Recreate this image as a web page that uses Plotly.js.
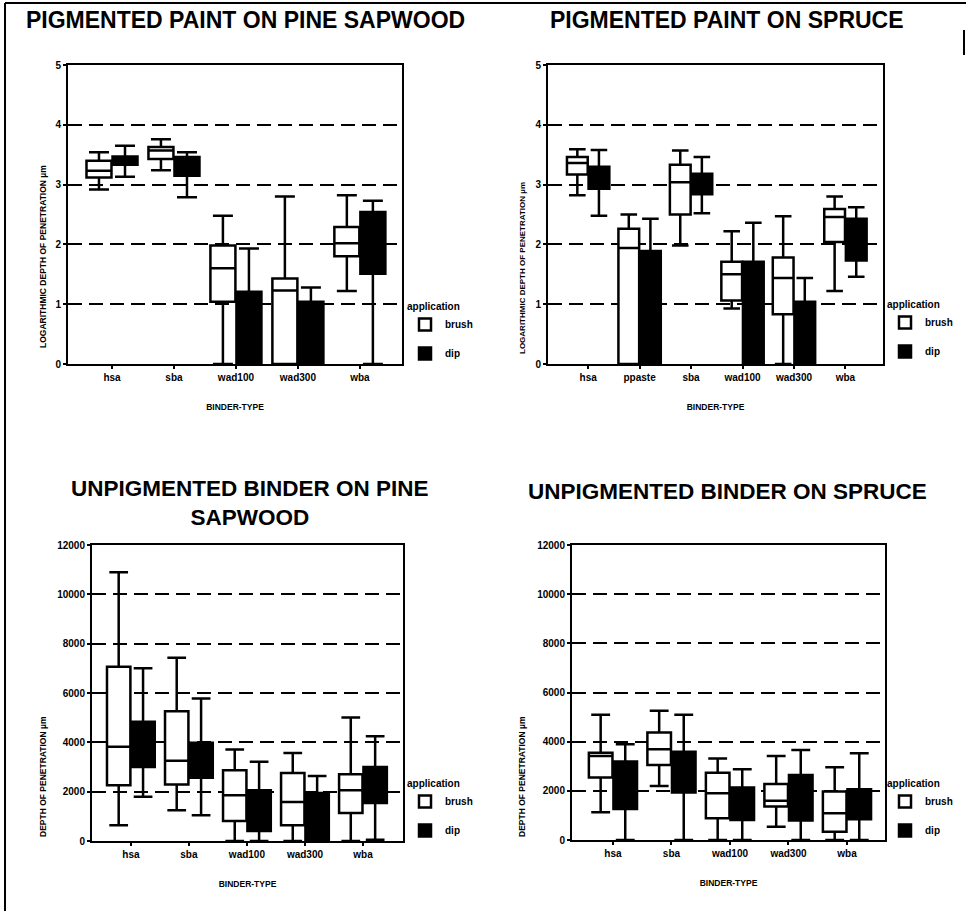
<!DOCTYPE html>
<html><head><meta charset="utf-8">
<script src="https://cdn.plot.ly/plotly-3.0.1.min.js"></script>
<style>html,body{margin:0;padding:0;background:#fff}#chart{width:966px;height:911px}</style>
</head><body><div id="chart"></div>
<script>
// ---------- categories ----------
const binders5 = ['hsa', 'sba', 'wad100', 'wad300', 'wba'];
const binders6 = ['hsa', 'ppaste', 'sba', 'wad100', 'wad300', 'wba'];
const seriesNames = ['brush', 'dip'];

// ---------- panel 1: pigmented paint on pine sapwood (log depth) ----------
const p1BrushLow  = [2.92, 3.24, 0.00, 0.00, 1.22];
const p1BrushQ1   = [3.12, 3.43, 1.04, 0.00, 1.80];
const p1BrushMed  = [3.23, 3.57, 1.60, 1.23, 2.02];
const p1BrushQ3   = [3.40, 3.63, 1.98, 1.43, 2.29];
const p1BrushHigh = [3.54, 3.76, 2.48, 2.80, 2.82];
const p1DipLow    = [3.13, 2.79, 0.00, 0.00, 0.00];
const p1DipQ1     = [3.33, 3.15, 0.00, 0.00, 1.51];
const p1DipMed    = [3.40, 3.30, 0.60, 0.50, 2.00];
const p1DipQ3     = [3.47, 3.46, 1.21, 1.04, 2.54];
const p1DipHigh   = [3.65, 3.54, 1.93, 1.28, 2.73];

// ---------- panel 2: pigmented paint on spruce (log depth) ----------
const p2BrushLow  = [2.82, 0.00, 1.98, 0.93, 0.00, 1.22];
const p2BrushQ1   = [3.17, 0.00, 2.50, 1.06, 0.83, 2.04];
const p2BrushMed  = [3.36, 1.94, 3.04, 1.50, 1.44, 2.46];
const p2BrushQ3   = [3.46, 2.26, 3.33, 1.71, 1.78, 2.59];
const p2BrushHigh = [3.59, 2.50, 3.57, 2.22, 2.47, 2.80];
const p2DipLow    = [2.48, 0.00, 2.52, 0.00, 0.00, 1.46];
const p2DipQ1     = [2.93, 0.00, 2.84, 0.00, 0.00, 1.73];
const p2DipMed    = [3.10, 1.00, 3.00, 1.00, 0.50, 2.10];
const p2DipQ3     = [3.30, 1.89, 3.18, 1.71, 1.04, 2.43];
const p2DipHigh   = [3.58, 2.43, 3.46, 2.36, 1.44, 2.62];

// ---------- panel 3: unpigmented binder on pine sapwood (depth µm) ----------
const p3BrushLow  = [640, 1250, 0, 0, 0];
const p3BrushQ1   = [2260, 2290, 810, 640, 1140];
const p3BrushMed  = [3820, 3250, 1850, 1580, 2060];
const p3BrushQ3   = [7060, 5260, 2870, 2760, 2710];
const p3BrushHigh = [10900, 7430, 3710, 3570, 5010];
const p3DipLow    = [1790, 1040, 0, 0, 50];
const p3DipQ1     = [3000, 2560, 410, 0, 1540];
const p3DipMed    = [4000, 3300, 1200, 1000, 2300];
const p3DipQ3     = [4830, 3980, 2060, 1950, 3000];
const p3DipHigh   = [7000, 5780, 3210, 2640, 4250];

// ---------- panel 4: unpigmented binder on spruce (depth µm) ----------
const p4BrushLow  = [1130, 2200, 0, 540, 0];
const p4BrushQ1   = [2540, 3050, 880, 1360, 340];
const p4BrushMed  = [3420, 3690, 1900, 1600, 1090];
const p4BrushQ3   = [3550, 4370, 2740, 2280, 1970];
const p4BrushHigh = [5090, 5260, 3320, 3420, 2960];
const p4DipLow    = [0, 0, 0, 0, 0];
const p4DipQ1     = [1260, 1930, 810, 790, 840];
const p4DipMed    = [2200, 2800, 1500, 1700, 1400];
const p4DipQ3     = [3190, 3590, 2140, 2640, 2060];
const p4DipHigh   = [3890, 5090, 2880, 3660, 3530];

// ---------- text ----------
const panelTitles = [
  'PIGMENTED PAINT ON PINE SAPWOOD',
  'PIGMENTED PAINT ON SPRUCE',
  'UNPIGMENTED BINDER ON PINE<br>SAPWOOD',
  'UNPIGMENTED BINDER ON SPRUCE'
];
const yTitles = [
  'LOGARITHMIC DEPTH OF PENETRATION µm',
  'LOGARITHMIC DEPTH OF PENETRATION µm',
  'DEPTH OF PENETRATION µm',
  'DEPTH OF PENETRATION µm'
];
const xTitle = 'BINDER-TYPE';
const legendTitle = 'application';

// ---------- layout helpers (pixel -> paper) ----------
const W = 966, H = 911;
const px = v => v / W;
const py = v => 1 - v / H;
const FONT = 'Liberation Sans, Arial, Helvetica, sans-serif';
const bold = (size) => ({family: FONT, size: size, color: '#000', weight: 700});

const panels = [
  {cats: binders5, b: [p1BrushLow, p1BrushQ1, p1BrushMed, p1BrushQ3, p1BrushHigh],
   d: [p1DipLow, p1DipQ1, p1DipMed, p1DipQ3, p1DipHigh]},
  {cats: binders6, b: [p2BrushLow, p2BrushQ1, p2BrushMed, p2BrushQ3, p2BrushHigh],
   d: [p2DipLow, p2DipQ1, p2DipMed, p2DipQ3, p2DipHigh]},
  {cats: binders5, b: [p3BrushLow, p3BrushQ1, p3BrushMed, p3BrushQ3, p3BrushHigh],
   d: [p3DipLow, p3DipQ1, p3DipMed, p3DipQ3, p3DipHigh]},
  {cats: binders5, b: [p4BrushLow, p4BrushQ1, p4BrushMed, p4BrushQ3, p4BrushHigh],
   d: [p4DipLow, p4DipQ1, p4DipMed, p4DipQ3, p4DipHigh]}
];

const traces = [];
panels.forEach((p, i) => {
  const n = i === 0 ? '' : String(i + 1);
  [p.b, p.d].forEach((s, k) => {
    traces.push({
      type: 'box',
      name: seriesNames[k],
      x: p.cats,
      lowerfence: s[0], q1: s[1], median: s[2], q3: s[3], upperfence: s[4],
      xaxis: 'x' + n, yaxis: 'y' + n,
      alignmentgroup: 'panel' + i,
      offsetgroup: seriesNames[k],
      legend: 'legend' + n,
      legendgroup: 'g' + i + k,
      boxpoints: false,
      whiskerwidth: 0.8,
      fillcolor: k === 0 ? '#ffffff' : '#000000',
      line: {color: '#000', width: 2.5},
      hoverinfo: 'skip'
    });
  });
});

// plot-area geometry (pixels)
const geo = [
  {l: 68,  r: 402, t: 65,  b: 364, xr: [-0.71, 4.68], yr: [0, 5],     dt: 1},
  {l: 548, r: 883, t: 65,  b: 364, xr: [-0.78, 5.73], yr: [0, 5],     dt: 1},
  {l: 92,  r: 403, t: 545, b: 841, xr: [-0.67, 4.69], yr: [0, 12000], dt: 2000},
  {l: 572, r: 885, t: 545, b: 840, xr: [-0.70, 4.65], yr: [0, 12000], dt: 2000}
];

const layout = {
  width: W, height: H,
  margin: {l: 0, r: 0, t: 0, b: 0, autoexpand: false},
  paper_bgcolor: '#fff', plot_bgcolor: '#fff',
  boxmode: 'group', boxgap: 0.16, boxgroupgap: 0.04,
  font: bold(10),
  showlegend: true,
  annotations: [], shapes: []
};

const legendPos = [[405, 297], [885, 295], [405, 774], [885, 774]];
const titlePos = [[245, 20], [727, 20], [250, 503], [727, 491]];
const titleSize = [23, 23, 22.5, 22.5];
const yTitlePos = [[43, 257], [523, 268], [43, 777], [522, 777]];
const yTitleSize = [8.5, 8, 8.5, 8.5];

geo.forEach((g, i) => {
  const n = i === 0 ? '' : String(i + 1);
  layout['xaxis' + n] = {
    type: 'category', domain: [px(g.l), px(g.r)], range: g.xr,
    anchor: 'y' + n, showline: true, mirror: true, linecolor: '#000', linewidth: 2,
    showgrid: false, zeroline: false, ticks: 'outside', ticklen: 3, tickwidth: 2, tickcolor: '#000',
    tickfont: bold(10), automargin: false, fixedrange: true,
    title: {text: xTitle, font: bold(8.5), standoff: 22}
  };
  layout['yaxis' + n] = {
    domain: [py(g.b), py(g.t)], range: g.yr, dtick: g.dt, tick0: 0, tickformat: 'd',
    anchor: 'x' + n, showline: true, mirror: true, linecolor: '#000', linewidth: 2,
    showgrid: true, gridcolor: '#000', gridwidth: 2, griddash: '14px,7px',
    zeroline: false, ticks: 'outside', ticklen: 3, tickwidth: 2, tickcolor: '#000',
    tickfont: bold(10), automargin: false, fixedrange: true
  };
  layout['legend' + n] = {
    title: {text: legendTitle, font: bold(10)},
    x: px(legendPos[i][0]), y: py(legendPos[i][1]), xanchor: 'left', yanchor: 'top',
    bgcolor: 'rgba(0,0,0,0)', borderwidth: 0, font: bold(10),
    traceorder: 'grouped', tracegroupgap: 10
  };
  layout.annotations.push({
    text: panelTitles[i], xref: 'paper', yref: 'paper',
    x: px(titlePos[i][0]), y: py(titlePos[i][1]), xanchor: 'center', yanchor: 'middle',
    showarrow: false, font: bold(titleSize[i])
  });
  layout.annotations.push({
    text: yTitles[i], xref: 'paper', yref: 'paper', textangle: -90,
    x: px(yTitlePos[i][0]), y: py(yTitlePos[i][1]), xanchor: 'center', yanchor: 'middle',
    showarrow: false, font: bold(yTitleSize[i])
  });
});

// scanned page frame
layout.shapes.push(
  {type: 'line', xref: 'paper', yref: 'paper', x0: px(5), x1: px(5), y0: 0, y1: py(3), line: {color: '#000', width: 2}},
  {type: 'line', xref: 'paper', yref: 'paper', x0: px(5), x1: 1, y0: py(3), y1: py(3), line: {color: '#000', width: 2}},
  {type: 'line', xref: 'paper', yref: 'paper', x0: px(964), x1: px(964), y0: py(30), y1: py(55), line: {color: '#000', width: 2}}
);

Plotly.newPlot('chart', traces, layout, {displayModeBar: false, responsive: false});
</script>
</body></html>
